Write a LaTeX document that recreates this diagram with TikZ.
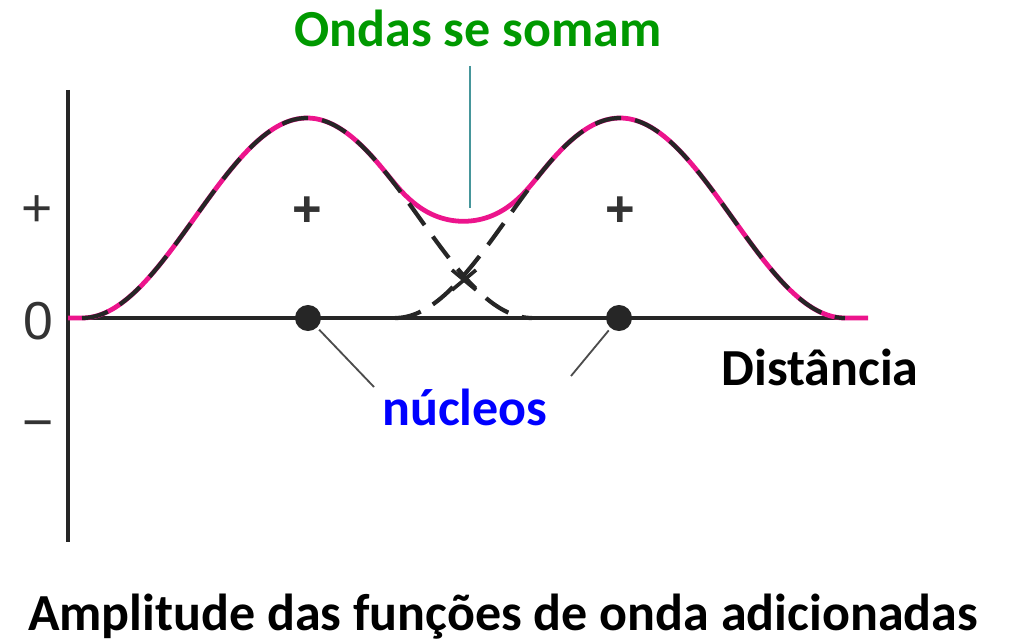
\documentclass[tikz,border=0pt]{standalone}
\usepackage{fontspec}
\setmainfont{Carlito}
\newfontfamily\arialfont{Liberation Sans}
\definecolor{rosa}{RGB}{236,20,140}
\definecolor{verde}{RGB}{0,153,0}
\definecolor{azul}{RGB}{0,0,255}
\definecolor{petroleo}{RGB}{70,150,155}
\tikzset{
  declare function={onda(\px,\cx)=(abs(\px-\cx)<225)*200*(cos(0.4*(\px-\cx)))^2;},
  eixo/.style    = {line width=3.4pt, draw=black!85},
  soma/.style    = {line width=3.4pt, draw=rosa},
  parcial/.style = {line width=3pt, draw=black!85, dash pattern=on 19pt off 10pt},
  guia/.style    = {line width=1.3pt, draw=black!70},
  marcador/.style= {line width=1.6pt, draw=petroleo},
  sinal/.style   = {font=\arialfont\fontsize{38}{40}\selectfont, text=black!80, inner sep=0pt},
  titulo/.style  = {font=\bfseries\fontsize{37}{40}\selectfont, inner sep=0pt, anchor=base},
  nucleo/.style  = {circle, fill=black!85, minimum size=18.5pt, inner sep=0pt}
}
\begin{document}
\begin{tikzpicture}[x=0.025cm, y=-0.025cm]
  \useasboundingbox (0,0) rectangle (1015,644);
  % eixos
  \draw[eixo] (68,90) -- (68,542);
  \draw[eixo] (68,318) -- (868,318);
  \node[sinal] (mais)  at (37,211) {+};
  \node[sinal] (zero)  at (38,321) {0};
  \node[sinal] (menos) at (38,431) {−};
  % soma e funcoes parciais
  \draw[soma] plot[domain=68:868, samples=300]
    (\x,{318-onda(\x,307)-onda(\x,620)-(abs(\x-463.5)<80)*12*(cos(1.125*(\x-463.5)))^2});
  \draw[parcial] plot[domain=82:532, samples=150] (\x,{318-onda(\x,307)});
  \draw[parcial] plot[domain=395:845, samples=150] (\x,{318-onda(\x,620)});
  \draw[line width=2.6pt, draw=black!85] (452,270) -- (476,290) (452,290) -- (476,270);
  \node[sinal, font=\arialfont\bfseries\fontsize{36}{40}\selectfont] (sinalE) at (307,212) {+};
  \node[sinal, font=\arialfont\bfseries\fontsize{36}{40}\selectfont] (sinalD) at (620,212) {+};
  % nucleos
  \node[nucleo] (n1) at (308,318) {};
  \node[nucleo] (n2) at (619,318) {};
  \node[titulo, text=azul] (nucleos) at (465,425) {núcleos};
  \coordinate (fimE) at (374,387);
  \coordinate (fimD) at (571,376);
  \draw[guia, shorten <=2pt] (n1) -- (fimE);
  \draw[guia, shorten <=2pt] (n2) -- (fimD);
  % rotulos
  \node[titulo, text=verde] (ondas) at (478,47) {Ondas se somam};
  \coordinate (vale) at (470,208);
  \draw[marcador] ([yshift=-13pt]ondas.south -| vale) -- (vale);
  \node[titulo] (dist) at (820,385) {Distância};
  \node[titulo] (amp) at (503,630) {Amplitude das funções de onda adicionadas};
\end{tikzpicture}
\end{document}
